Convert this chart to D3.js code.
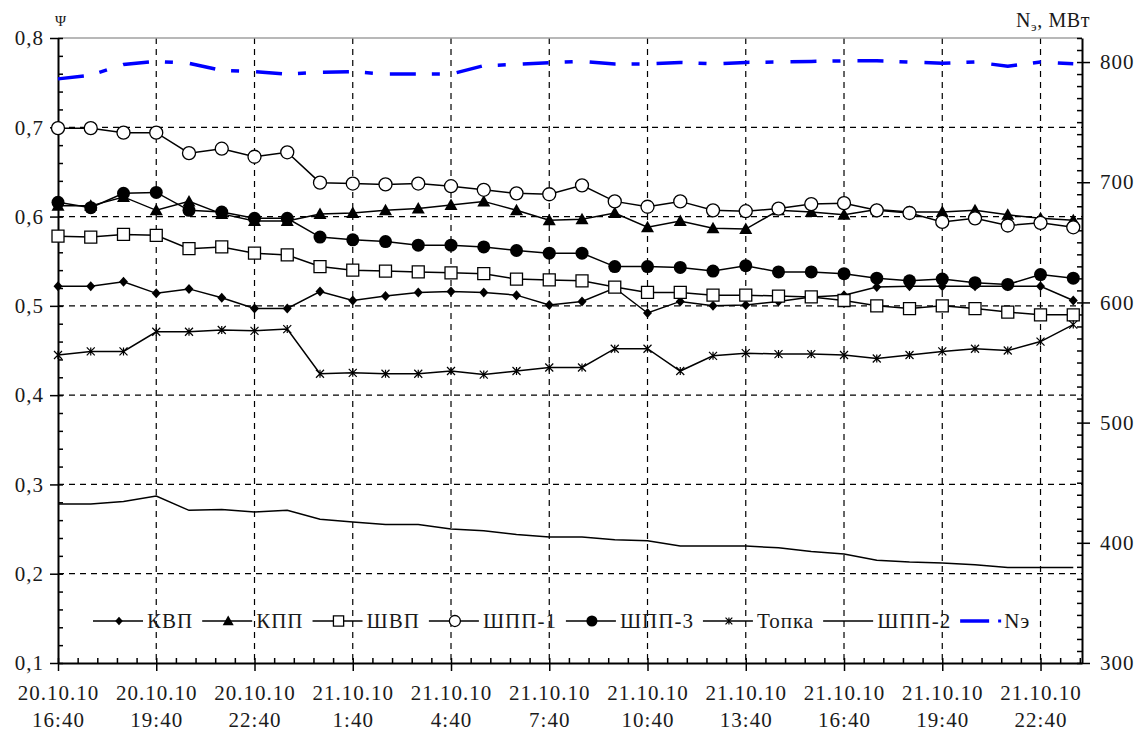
<!DOCTYPE html>
<html>
<head>
<meta charset="utf-8">
<script src="https://cdn.jsdelivr.net/npm/d3@7"></script>
<style>
  body { margin: 0; background: #fff; }
  svg { display: block; }
  svg text { font-family: 'Liberation Serif', 'Times New Roman', Times, serif; }
</style>
</head>
<body>
<svg id="chart" width="1143" height="738"></svg>
<script>
// time range and ticks
const startTime = '2010-10-20 16:40';
const endTime = '2010-10-21 23:56';
const tickLabels = [
  '20.10.10 16:40', '20.10.10 19:40', '20.10.10 22:40', '21.10.10 1:40',
  '21.10.10 4:40', '21.10.10 7:40', '21.10.10 10:40', '21.10.10 13:40',
  '21.10.10 16:40', '21.10.10 19:40', '21.10.10 22:40'
];
const leftTicks = [0.1, 0.2, 0.3, 0.4, 0.5, 0.6, 0.7, 0.8];
const rightTicks = [300, 400, 500, 600, 700, 800];

// hourly values, psi (left axis)
const kvp = [0.522, 0.522, 0.527, 0.514, 0.519, 0.509, 0.497, 0.497, 0.516, 0.506, 0.511, 0.515,
  0.516, 0.515, 0.512, 0.501, 0.505, 0.520, 0.492, 0.505, 0.500, 0.501, 0.505, 0.510,
  0.512, 0.521, 0.522, 0.522, 0.522, 0.522, 0.522, 0.506];
const kpp = [0.612, 0.612, 0.622, 0.607, 0.617, 0.603, 0.595, 0.595, 0.603, 0.604, 0.607, 0.609,
  0.613, 0.617, 0.607, 0.596, 0.597, 0.604, 0.588, 0.595, 0.587, 0.586, 0.607, 0.605,
  0.602, 0.608, 0.605, 0.605, 0.607, 0.602, 0.598, 0.596];
const shvp = [0.578, 0.577, 0.580, 0.579, 0.564, 0.566, 0.559, 0.557, 0.544, 0.540, 0.539, 0.538,
  0.537, 0.536, 0.530, 0.529, 0.528, 0.521, 0.515, 0.515, 0.512, 0.512, 0.511, 0.510,
  0.506, 0.500, 0.497, 0.500, 0.497, 0.493, 0.490, 0.490];
const shpp1 = [0.699, 0.699, 0.694, 0.694, 0.671, 0.676, 0.667, 0.672, 0.638, 0.637, 0.636, 0.637,
  0.634, 0.630, 0.626, 0.625, 0.635, 0.617, 0.611, 0.617, 0.607, 0.606, 0.609, 0.614,
  0.615, 0.607, 0.604, 0.594, 0.598, 0.590, 0.593, 0.588];
const shpp3 = [0.616, 0.610, 0.626, 0.627, 0.607, 0.605, 0.598, 0.598, 0.577, 0.574, 0.572, 0.568,
  0.568, 0.566, 0.562, 0.559, 0.559, 0.544, 0.544, 0.543, 0.539, 0.545, 0.538, 0.538,
  0.536, 0.531, 0.528, 0.530, 0.526, 0.524, 0.535, 0.531];
const topka = [0.445, 0.449, 0.449, 0.471, 0.471, 0.473, 0.472, 0.474, 0.424, 0.425, 0.424, 0.424,
  0.427, 0.423, 0.427, 0.431, 0.431, 0.452, 0.452, 0.427, 0.444, 0.447, 0.446, 0.446,
  0.445, 0.441, 0.445, 0.449, 0.452, 0.450, 0.460, 0.479];
const shpp2 = [0.278, 0.278, 0.281, 0.287, 0.271, 0.272, 0.269, 0.271, 0.261, 0.258, 0.255, 0.255,
  0.250, 0.248, 0.244, 0.241, 0.241, 0.238, 0.237, 0.231, 0.231, 0.231, 0.229, 0.225,
  0.222, 0.215, 0.213, 0.212, 0.210, 0.207, 0.207, 0.207];
// power, MW (right axis)
const ne = [786, 789, 798, 800.5, 799, 793, 792, 790, 791.5, 792, 790, 790,
  790, 797, 798, 799.5, 800.5, 798.3, 798.5, 799.7, 798.5, 799.7, 800, 800.5,
  801, 801, 800, 799, 800, 796.5, 800, 798.5];

const seriesNames = ['КВП', 'КПП', 'ШВП', 'ШПП-1', 'ШПП-3', 'Топка', 'ШПП-2', 'Nэ'];
const seriesValues = [kvp, kpp, shvp, shpp1, shpp3, topka, shpp2, ne];
const seriesMarkers = ['diamond', 'triangle', 'square', 'circleOpen', 'circleFilled', 'star', 'none', 'none'];

const FONT = "'Liberation Serif', 'Times New Roman', Times, serif";
const svg = d3.select('#chart');
const margin = { top: 38, right: 61, bottom: 75, left: 58 };
const W = 1143, H = 738;
const x0 = margin.left, x1 = W - margin.right;
const y0 = H - margin.bottom, y1 = margin.top;

const parse = d3.timeParse('%Y-%m-%d %H:%M');
const parseTick = d3.timeParse('%d.%m.%y %H:%M');
const t0 = parse(startTime);
const tEnd = parse(endTime);

const x = d3.scaleTime().domain([t0, tEnd]).range([x0, x1]);
const yL = d3.scaleLinear().domain([0.1, 0.8]).range([y0, y1]);
const yR = d3.scaleLinear().domain([300, 820]).range([y0, y1]);

const ru = d3.formatLocale({ decimal: ',', thousands: ' ', grouping: [3], currency: ['', ''] });
const fmtL = ru.format('.1f');
const tickDates = tickLabels.map(parseTick);

// grid
const grid = svg.append('g').attr('class', 'grid')
  .attr('stroke', '#000').attr('stroke-width', 1.2).attr('stroke-dasharray', '6,5');
grid.selectAll('.h').data(leftTicks.slice(1, -1)).join('line')
  .attr('x1', x0).attr('x2', x1)
  .attr('y1', d => yL(d)).attr('y2', d => yL(d));
grid.selectAll('.v').data(tickDates.slice(1)).join('line')
  .attr('x1', d => x(d)).attr('x2', d => x(d))
  .attr('y1', y1).attr('y2', y0);

// top border
svg.append('line').attr('x1', x0).attr('x2', x1).attr('y1', y1).attr('y2', y1)
  .attr('stroke', '#a0a0a0').attr('stroke-width', 1.5);

// axes
function styleAxis(g) {
  g.attr('font-family', FONT).attr('font-size', 21).attr('letter-spacing', 1);
  g.select('.domain').attr('stroke', '#000').attr('stroke-width', 2);
  g.selectAll('.tick line').attr('stroke', '#000').attr('stroke-width', 1.5);
  g.selectAll('.tick text').attr('fill', '#1a1a1a');
}

const minorL = d3.range(10, 81, 2).map(d => d / 100);
const minorR = d3.range(300, 821, 10);
const minorX = d3.range(0, 31.3 * 60, 36).map(m => d3.timeMinute.offset(t0, m));

svg.append('g').attr('transform', `translate(${x0},0)`)
  .call(d3.axisRight(yL).tickValues(minorL).tickSize(5).tickFormat(''))
  .call(g => { g.select('.domain').remove(); styleAxis(g); });
svg.append('g').attr('transform', `translate(${x0},0)`)
  .call(d3.axisLeft(yL).tickValues(leftTicks).tickSize(8).tickSizeOuter(0).tickPadding(6).tickFormat(fmtL))
  .call(styleAxis);

svg.append('g').attr('transform', `translate(${x1},0)`)
  .call(d3.axisLeft(yR).tickValues(minorR).tickSize(5).tickFormat(''))
  .call(g => { g.select('.domain').remove(); styleAxis(g); });
svg.append('g').attr('transform', `translate(${x1},0)`)
  .call(d3.axisRight(yR).tickValues(rightTicks).tickSize(8).tickSizeOuter(0).tickPadding(10))
  .call(styleAxis);

svg.append('g').attr('transform', `translate(0,${y0})`)
  .call(d3.axisTop(x).tickValues(minorX).tickSize(5).tickFormat(''))
  .call(g => { g.select('.domain').remove(); styleAxis(g); });
const fmtDay = d3.timeFormat('%d.%m.%y');
const fmtHour = d3.timeFormat('%-H:%M');
svg.append('g').attr('transform', `translate(0,${y0})`)
  .call(d3.axisBottom(x).tickValues(tickDates).tickSize(8).tickSizeOuter(0).tickFormat(''))
  .call(styleAxis)
  .call(g => g.selectAll('.tick').append('text')
    .attr('fill', '#1a1a1a').attr('text-anchor', 'middle')
    .each(function (d) {
      const t = d3.select(this);
      t.append('tspan').attr('x', 0).attr('y', 37).text(fmtDay(d));
      t.append('tspan').attr('x', 0).attr('y', 64).text(fmtHour(d));
    }));

// axis titles
svg.append('text').attr('x', 55).attr('y', 26).attr('font-size', 15).attr('fill', '#1a1a1a').text('Ψ');
const nt = svg.append('text').attr('x', 1016).attr('y', 27).attr('font-size', 20)
  .attr('letter-spacing', 0.6).attr('fill', '#1a1a1a');
nt.append('tspan').text('N');
nt.append('tspan').attr('font-size', 13).attr('dy', 4).text('э');
nt.append('tspan').attr('dy', -4).text(', МВт');

// markers
function markerPath(type, s) {
  switch (type) {
    case 'diamond': return `M0,${-5 * s}L${4.5 * s},0L0,${5 * s}L${-4.5 * s},0Z`;
    case 'triangle': return `M0,${-6.5 * s}L${6.5 * s},${5 * s}L${-6.5 * s},${5 * s}Z`;
    case 'square': return `M${-6 * s},${-6 * s}h${12 * s}v${12 * s}h${-12 * s}Z`;
    case 'star': return `M${-4 * s},${-4 * s}L${4 * s},${4 * s}M${-4 * s},${4 * s}L${4 * s},${-4 * s}M0,${-4 * s}L0,${4 * s}`;
    default: return '';
  }
}
function drawMarker(g, type, s) {
  if (type === 'circleOpen') {
    g.append('circle').attr('r', 6.5 * s).attr('fill', '#fff').attr('stroke', '#000').attr('stroke-width', 1.3);
  } else if (type === 'circleFilled') {
    g.append('circle').attr('r', 6.5 * s).attr('fill', '#000');
  } else if (type === 'square') {
    g.append('path').attr('d', markerPath(type, s)).attr('fill', '#fff').attr('stroke', '#000').attr('stroke-width', 1.3);
  } else if (type === 'star') {
    g.append('path').attr('d', markerPath(type, s)).attr('fill', 'none').attr('stroke', '#000').attr('stroke-width', 1.2);
  } else if (type !== 'none') {
    g.append('path').attr('d', markerPath(type, s)).attr('fill', '#000');
  }
}

// series
const timeAt = i => d3.timeHour.offset(t0, i);
seriesNames.forEach((name, k) => {
  const vals = seriesValues[k];
  const isNe = name === 'Nэ';
  const yS = isNe ? yR : yL;
  const line = d3.line().x((d, i) => x(timeAt(i))).y(d => yS(d));
  const g = svg.append('g').attr('class', 'series');
  g.append('path').datum(vals)
    .attr('fill', 'none')
    .attr('stroke', isNe ? '#0000ff' : '#000')
    .attr('stroke-width', isNe ? 3.5 : 1.5)
    .attr('stroke-dasharray', isNe ? '26,16,8,17' : null)
    .attr('d', line);
  if (seriesMarkers[k] !== 'none') {
    g.selectAll('.m').data(vals).join('g')
      .attr('transform', (d, i) => `translate(${x(timeAt(i))},${yS(d)})`)
      .each(function () { drawMarker(d3.select(this), seriesMarkers[k], 1); });
  }
});

// legend
const legend = svg.append('g').attr('transform', 'translate(93,621)')
  .attr('font-family', FONT).attr('font-size', 21).attr('letter-spacing', 1);
let lx = 0;
seriesNames.forEach((name, k) => {
  const isNe = name === 'Nэ';
  const item = legend.append('g').attr('transform', `translate(${lx},0)`);
  if (isNe) {
    item.append('line').attr('x1', 0).attr('x2', 29).attr('stroke', '#0000ff').attr('stroke-width', 3.5);
    item.append('rect').attr('x', 38).attr('y', -1.5).attr('width', 3).attr('height', 3).attr('fill', '#0000ff');
  } else {
    item.append('line').attr('x1', 0).attr('x2', 50).attr('stroke', '#000').attr('stroke-width', 1.5);
    const m = item.append('g').attr('transform', 'translate(26,0)');
    drawMarker(m, seriesMarkers[k], 0.85);
  }
  const tx = isNe ? 44 : 54;
  const txt = item.append('text').attr('x', tx).attr('y', 7).attr('fill', '#1a1a1a');
  txt.text(name);
  lx += tx + txt.node().getComputedTextLength() + 9;
});
</script>
</body>
</html>
